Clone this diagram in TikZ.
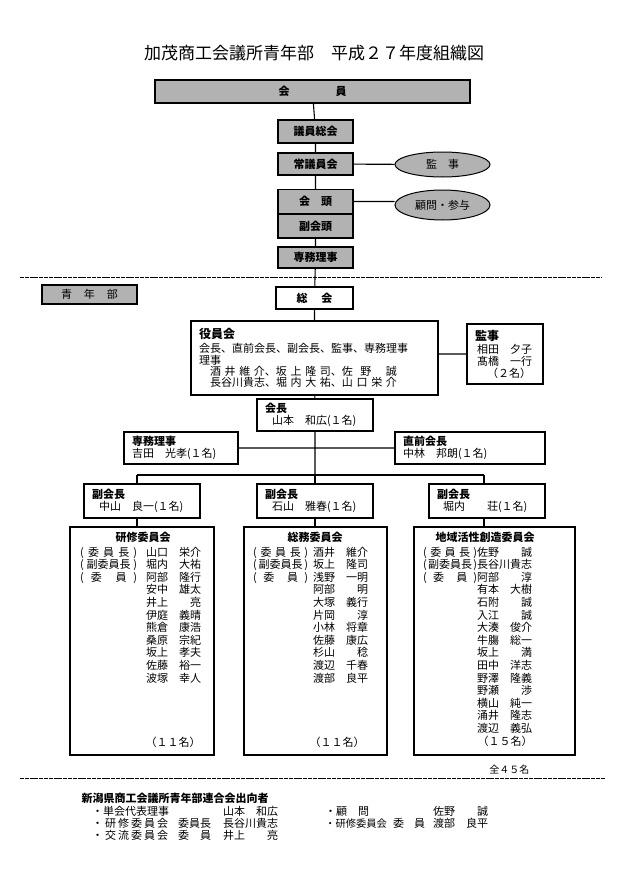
\documentclass[tikz,border=0pt]{standalone}
\usepackage{fontspec}
\setmainfont{Noto Sans CJK JP}
\usepackage{tikz}
\usetikzlibrary{shapes.geometric}
\definecolor{boxgray}{RGB}{178,178,178}
\newcommand{\fs}{\fontsize{11pt}{12.6pt}\selectfont}
\newlength{\ykw}
\newlength{\ykg}
\newcommand{\yk}[1]{\makebox[\ykw][s]{(\hfill#1\hfill)}\hspace*{\ykg}}
\newcommand{\ykn}{\hspace*{\ykw}\hspace*{\ykg}}
\newcommand{\nm}[1]{\makebox[55pt][s]{#1}}

\begin{document}
\begin{tikzpicture}[x=1pt,y=-1pt,
  conn/.style={line width=1.1pt},
  gbox/.style={draw,line width=1.3pt,fill=boxgray,minimum width=75pt,inner sep=0pt,font=\fs\bfseries},
  gell/.style={draw,line width=1pt,fill=boxgray,ellipse,minimum width=95pt,minimum height=25pt,inner sep=0pt,font=\fs},
  wbox/.style={draw,line width=1.1pt,inner sep=0pt,font=\fs},
  obox/.style={draw,line width=1.1pt,minimum height=32pt,inner xsep=8pt,inner ysep=0pt,align=left,font=\fs},
  cbox/.style={draw,line width=1.1pt,minimum height=228pt},
  lst/.style={inner sep=0pt,anchor=base west,text width=150pt,align=left,font=\fs},
  sepline/.style={line width=1pt,dash pattern=on 4pt off 0.8pt}]
  \useasboundingbox(0,0)rectangle(630,891);
  \node[font=\fontsize{17pt}{20pt}\selectfont] (title) at (314,53) {加茂商工会議所青年部　平成２７年度組織図};
  \node[gbox,minimum width=315pt,minimum height=23pt] (kaiin) at (312.5,91.5) {会\hspace{46pt}員};
  \node[gbox,minimum height=23pt] (giin) at (315.5,131.5) {議員総会};
  \node[gbox,minimum height=22pt] (jogiin) at (315.5,164) {常議員会};
  \node[gell] (kanji) at (442.5,164.5) {監　事};
  \node[gbox,minimum height=23.5pt] (kaito) at (315.5,201.5) {会　頭};
  \node[gbox,minimum height=23.5pt,anchor=north] (fukukaito) at (kaito.south) {副会頭};
  \node[gell,minimum height=30pt] (komon) at (442.5,205) {顧問・参与};
  \node[gbox,minimum height=21pt] (senmu) at (315.5,257.5) {専務理事};
  \draw[conn](kaiin)--(giin) (giin)--(jogiin) (jogiin)--(kaito) (fukukaito)--(senmu);
  \draw[conn](jogiin)--(kanji) (kaito.east)--(kaito.east-|komon.west);
  \draw[sepline](20,277)--(602,277);

  \node[gbox,minimum width=95pt,minimum height=19pt,font=\fs] (seinenbu) at (89.5,294.5) {青\hspace{12pt}年\hspace{12pt}部};
  \node[wbox,minimum width=77pt,minimum height=22pt,font=\fs\bfseries] (sokai) at (314.5,298) {総\hspace{14pt}会};
  \node[wbox,text width=231pt,inner xsep=8pt,minimum height=74pt,align=left,font=\fontsize{11pt}{11.3pt}\selectfont] (yakuin) at (314.5,358) {{\fontsize{12pt}{12pt}\selectfont\bfseries 役員会}\\[3pt]会長、直前会長、副会長、監事、専務理事\\理事\\\hspace*{11pt}\nm{酒\hfill 井\hfill 維\hfill 介}、\nm{坂\hfill 上\hfill 隆\hfill 司}、\nm{佐\hfill 野\hfill\hfill 誠}\\\hspace*{11pt}\nm{長谷川貴志}、\nm{堀\hfill 内\hfill 大\hfill 祐}、\nm{山\hfill 口\hfill 栄\hfill 介}};
  \node[wbox,text width=60pt,inner xsep=8pt,minimum height=60pt,align=left,font=\fontsize{11pt}{11.6pt}\selectfont] (kansa) at (505,354) {{\fontsize{12pt}{12pt}\selectfont\bfseries 監事}\\[2pt]\hspace*{2pt}相田　夕子\\\hspace*{2pt}髙橋　一行\\\hspace*{12pt}（２名）};
  \draw[conn](senmu)--(sokai) (sokai)--(yakuin) (kansa.west)--(kansa.west-|yakuin.east);

  \node[obox,text width=100pt] (kaicho) at (315,415) {{\bfseries 会長}\\\hspace*{7pt}山本　和広(１名)};
  \node[obox,text width=98pt] (senmuriji) at (181,448) {{\bfseries 専務理事}\\吉田　光孝(１名)};
  \node[obox,text width=134pt] (chokuzen) at (470,448) {{\bfseries 直前会長}\\中林　邦朗(１名)};
  \node[obox,text width=100pt,minimum height=34pt] (fukuA) at (142,501) {{\bfseries 副会長}\\\hspace*{7pt}中山　良一(１名)};
  \node[obox,text width=100pt,minimum height=34pt] (fukuB) at (315,501) {{\bfseries 副会長}\\\hspace*{7pt}石山　雅春(１名)};
  \node[obox,text width=100pt,minimum height=34pt] (fukuC) at (487,501) {{\bfseries 副会長}\\\hspace*{6pt}堀内　　荘(１名)};
  \coordinate (hub) at (315,475);
  \coordinate (brA) at (137,475);
  \coordinate (brC) at (484,475);
  \draw[conn](yakuin)--(kaicho) (kaicho)--(hub) (senmuriji)--(chokuzen);
  \draw[conn](brA)--(brC) (brA)--(brA|-fukuA.north) (hub)--(fukuB) (brC)--(brC|-fukuC.north);

  \node[cbox,minimum width=144pt] (kenshu) at (142,641) {};
  \node[cbox,minimum width=143pt] (somu) at (315.5,641) {};
  \node[cbox,minimum width=161pt] (chiiki) at (494.5,641) {};
  \draw[conn](fukuA.south-|brA)--(brA|-kenshu.north) (fukuB)--(fukuB|-somu.north) (fukuC.south-|brC)--(brC|-chiiki.north);
  \node[font=\fs\bfseries] (kenshuT) at (143,537) {研修委員会};
  \node[font=\fs\bfseries] (somuT) at (315,537) {総務委員会};
  \node[font=\fs\bfseries] (chiikiT) at (485,537) {地域活性創造委員会};
  \node[lst] (kenshuL) at (80,556) {\setlength{\ykw}{57pt}\setlength{\ykg}{9pt}%
    \yk{委\hfill 員\hfill 長}山口　栄介\\
    \yk{副委員長}堀内　大祐\\
    \yk{委\hfill\hfill 員}阿部　隆行\\
    \ykn 安中　雄太\\
    \ykn 井上　　亮\\
    \ykn 伊庭　義晴\\
    \ykn 熊倉　康浩\\
    \ykn 桑原　宗紀\\
    \ykn 坂上　孝夫\\
    \ykn 佐藤　裕一\\
    \ykn 波塚　幸人};
  \node[lst] (somuL) at (253,556) {\setlength{\ykw}{55pt}\setlength{\ykg}{5pt}%
    \yk{委\hfill 員\hfill 長}酒井　維介\\
    \yk{副委員長}坂上　隆司\\
    \yk{委\hfill\hfill 員}浅野　一明\\
    \ykn 阿部　　明\\
    \ykn 大塚　義行\\
    \ykn 片岡　　淳\\
    \ykn 小林　将章\\
    \ykn 佐藤　康広\\
    \ykn 杉山　　稔\\
    \ykn 渡辺　千春\\
    \ykn 渡部　良平};
  \node[lst] (chiikiL) at (423,556) {\setlength{\ykw}{54pt}\setlength{\ykg}{0pt}%
    \yk{委\hfill 員\hfill 長}佐野　　誠\\
    \yk{副委員長}長谷川貴志\\
    \yk{委\hfill\hfill 員}阿部　　淳\\
    \ykn 有本　大樹\\
    \ykn 石附　　誠\\
    \ykn 入江　　誠\\
    \ykn 大湊　俊介\\
    \ykn 牛膓　総一\\
    \ykn 坂上　　満\\
    \ykn 田中　洋志\\
    \ykn 野澤　隆義\\
    \ykn 野瀬　　渉\\
    \ykn 横山　純一\\
    \ykn 涌井　隆志\\
    \ykn 渡辺　義弘};
  \node[font=\fs] (kenshuN) at (173,742) {（１１名）};
  \node[font=\fs] (somuN) at (337,742) {（１１名）};
  \node[font=\fs] (chiikiN) at (505,741) {（１５名）};

  \node[font=\fontsize{10pt}{12pt}\selectfont,anchor=east] (zentai) at (533,770) {全４５名};
  \draw[sepline](20,778)--(605,778);
  \node[font=\fs\bfseries,anchor=west] (shukko) at (78,798) {新潟県商工会議所青年部連合会出向者};
  \node[lst,text width=220pt,font=\fontsize{11pt}{12pt}\selectfont] (shukkoA) at (92,815) {%
    \makebox[131pt][l]{・単会代表理事}山本　和広\\
    \makebox[86pt][l]{\makebox[76pt][s]{・\hfill 研\hfill 修\hfill 委\hfill 員\hfill 会}}\makebox[45pt][l]{委員長}長谷川貴志\\
    \makebox[86pt][l]{\makebox[76pt][s]{・\hfill 交\hfill 流\hfill 委\hfill 員\hfill 会}}\makebox[45pt][l]{\makebox[33pt][s]{委\hfill 員}}井上　　亮};
  \node[lst,text width=200pt,font=\fontsize{11pt}{12pt}\selectfont] (shukkoB) at (325,815) {%
    \makebox[108pt][l]{・顧　問}佐野　　誠\\
    \makebox[68pt][l]{\fontsize{10.3pt}{12pt}\selectfont ・研修委員会}\makebox[40pt][l]{\makebox[32pt][s]{委\hfill 員}}渡部　良平};
\end{tikzpicture}
\end{document}
